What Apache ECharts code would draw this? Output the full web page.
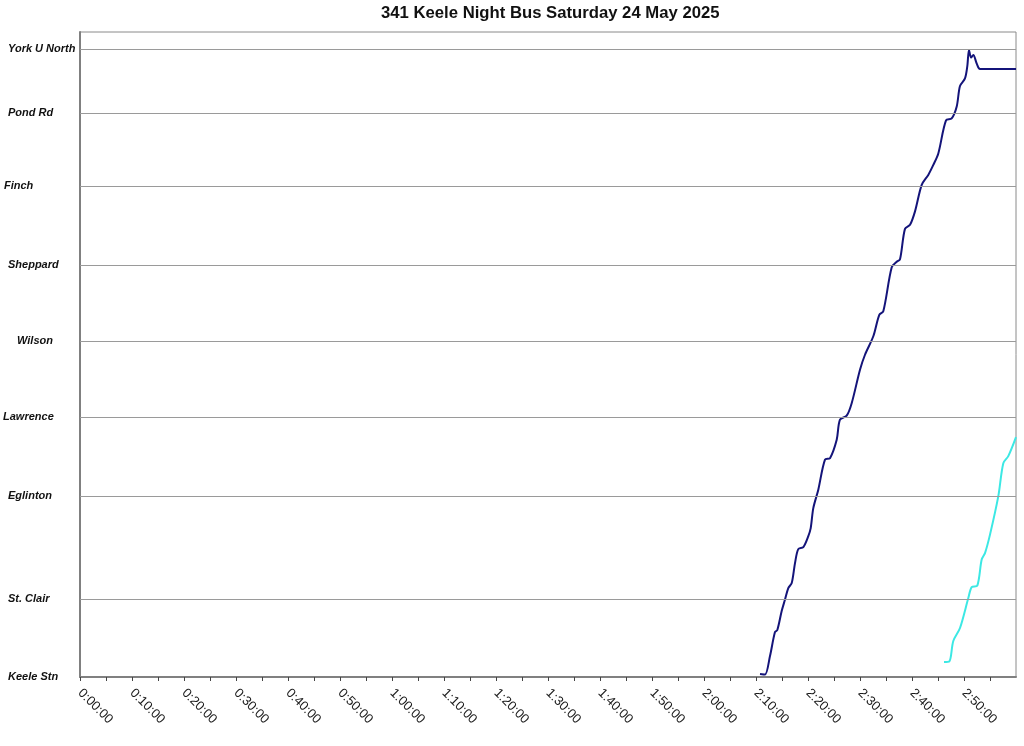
<!DOCTYPE html>
<html>
<head>
<meta charset="utf-8">
<title>341 Keele Night Bus</title>
<script src="https://cdn.jsdelivr.net/npm/echarts@6/dist/echarts.min.js"></script>
<style>
  html, body { margin: 0; padding: 0; background: #fff; }
  #chart { width: 1024px; height: 746px; }
</style>
</head>
<body>
<div id="chart"></div>
<script>
// stops along the route, distance from Keele Stn (km-ish)
const stopNames = ["Keele Stn", "St. Clair", "Eglinton", "Lawrence", "Wilson", "Sheppard", "Finch", "Pond Rd", "York U North"];
const stopDist = [0, 1.56, 3.62, 5.2, 6.72, 8.24, 9.83, 11.29, 12.57];

// trip 1 (navy): minutes after midnight / distance
const trip1Time = [130.77, 131.73, 132.69, 133.65, 134.10, 134.94, 135.58, 136.21, 136.87, 137.50, 138.13, 139.10, 140.06, 140.52, 141.02, 141.98, 143.27, 144.23, 145.52, 146.15, 147.44, 148.40, 150.00, 150.96, 152.56, 153.71, 154.48, 156.10, 157.06, 157.69, 158.65, 159.62, 160.58, 161.87, 163.13, 164.10, 165.06, 166.54, 167.63, 168.60, 169.23, 170.19, 170.63, 170.96, 171.35, 171.79, 172.44, 173.08, 180];
const trip1Dist = [0.06, 0.05, 0.42, 0.90, 0.94, 1.32, 1.55, 1.78, 1.88, 2.28, 2.56, 2.60, 2.82, 2.98, 3.38, 3.75, 4.35, 4.38, 4.75, 5.15, 5.23, 5.48, 6.15, 6.45, 6.82, 7.25, 7.32, 8.20, 8.31, 8.36, 8.97, 9.05, 9.32, 9.85, 10.05, 10.25, 10.48, 11.14, 11.18, 11.42, 11.83, 11.98, 12.22, 12.55, 12.40, 12.45, 12.28, 12.17, 12.17];

// trip 2 (cyan)
const trip2Time = [166.15, 167.17, 167.94, 169.23, 170.83, 171.48, 172.56, 173.40, 174.04, 175.00, 176.60, 177.56, 178.52, 180];
const trip2Dist = [0.30, 0.31, 0.72, 0.98, 1.58, 1.80, 1.83, 2.35, 2.48, 2.85, 3.62, 4.28, 4.42, 4.80];

const chart = echarts.init(document.getElementById("chart"));

const fmtTime = (m) => {
  const h = Math.floor(m / 60);
  const mm = Math.round(m % 60);
  return h + ":" + String(mm).padStart(2, "0") + ":00";
};

// small per-label nudges, like the original sheet
const labelIndent = { "Finch": 1, "Wilson": 14, "Lawrence": 0 };
const rich = {};
stopNames.forEach((n, i) => {
  rich["s" + i] = {
    fontFamily: "Liberation Sans",
    fontStyle: "italic",
    fontWeight: "bold",
    fontSize: 11,
    color: "#111",
    padding: [0, 0, 0, labelIndent[n] !== undefined ? labelIndent[n] : 5],
  };
});

const option = {
  animation: false,
  backgroundColor: "#fff",
  title: {
    text: "341 Keele Night Bus Saturday 24 May 2025",
    left: 376,
    top: 0,
    textStyle: {
      fontFamily: "Liberation Sans",
      fontWeight: "bold",
      fontSize: 16.7,
      color: "#111",
    },
  },
  grid: {
    left: 80,
    right: 8,
    top: 32,
    bottom: 69,
    show: true,
    borderColor: "#8a8a8a",
    borderWidth: 1,
  },
  xAxis: {
    type: "value",
    min: 0,
    max: 180,
    interval: 5,
    axisLine: { lineStyle: { color: "#808080", width: 2 } },
    axisTick: { show: true, length: 4, lineStyle: { color: "#444", width: 1 } },
    splitLine: { show: false },
    axisLabel: {
      rotate: -45,
      margin: 14,
      showMaxLabel: false,
      fontFamily: "Liberation Sans",
      fontSize: 13,
      color: "#1a1a1a",
      formatter: (v) => (v % 10 === 0 ? fmtTime(v) : ""),
    },
  },
  yAxis: {
    type: "value",
    min: 0,
    max: 12.91,
    axisLine: { show: true, lineStyle: { color: "#808080", width: 2 } },
    axisTick: { show: false },
    splitLine: { show: false },
    axisLabel: {
      customValues: stopDist,
      align: "left",
      margin: 77,
      formatter: (v) => {
        const i = stopDist.indexOf(v);
        return i < 0 ? "" : "{s" + i + "|" + stopNames[i] + "}";
      },
      rich: rich,
    },
  },
  series: [
    {
      type: "line",
      data: trip1Time.map((t, i) => [t, trip1Dist[i]]),
      smooth: 0.3,
      showSymbol: false,
      lineStyle: { color: "#14147a", width: 2 },
      markLine: {
        silent: true,
        symbol: "none",
        label: { show: false },
        lineStyle: { color: "#9a9a9a", width: 1, type: "solid" },
        data: stopDist.slice(1).map((d) => ({ yAxis: d })),
      },
      z: 3,
    },
    {
      type: "line",
      data: trip2Time.map((t, i) => [t, trip2Dist[i]]),
      smooth: 0.3,
      showSymbol: false,
      lineStyle: { color: "#3ce8e4", width: 2 },
      z: 3,
    },
  ],
};

chart.setOption(option);
</script>
</body>
</html>
